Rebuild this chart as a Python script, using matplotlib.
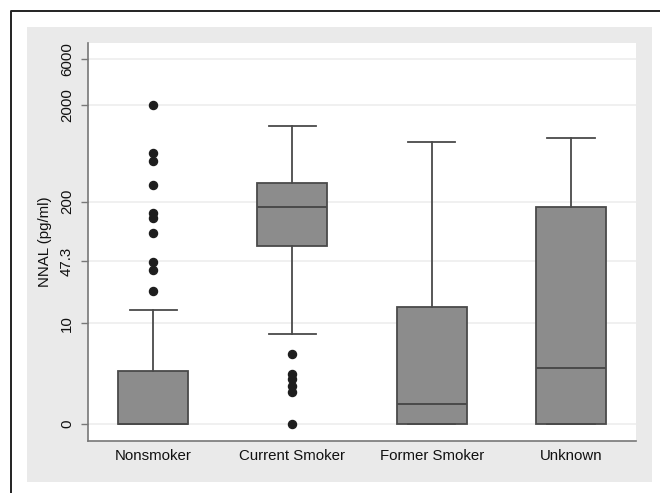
import numpy as np
import matplotlib
matplotlib.use("Agg")
import matplotlib.pyplot as plt
from matplotlib.patches import Rectangle
from matplotlib.lines import Line2D

plt.rcParams['font.family'] = ['Liberation Sans', 'DejaVu Sans']

categories = ["Nonsmoker", "Current Smoker", "Former Smoker", "Unknown"]
q1 = [0, 69, 0, 0]
medians = [0, 174, 0.6, 2.8]
q3 = [2.5, 314, 15.4, 174]
whislo = [0, 7.5, 0, 0]
whishi = [14.2, 1216, 823, 906]
outliers = [
    [2000, 633, 532, 298, 151, 134, 93, 46.9, 38.3, 23],
    [4.27, 2.33, 1.89, 1.47, 1.14, 0],
    [],
    [],
]
tick_vals = [0, 10, 47.3, 200, 2000, 6000]
tick_labels = ["0", "10", "47.3", "200", "2000", "6000"]

W, H = 660, 493
fig = plt.figure(figsize=(W / 100, H / 100), dpi=100)
fig.patch.set_facecolor("white")

# outer frame (continues off-canvas right and bottom)
fig.add_artist(Line2D([11 / W, 11 / W, 1.0], [0.0, 1 - 11 / H, 1 - 11 / H],
                      transform=fig.transFigure, color="#222222", lw=1.4))
# gray graph region
fig.add_artist(Rectangle((26.7 / W, 1 - 481.7 / H), (651.7 - 26.7) / W, (481.7 - 26.7) / H,
                         transform=fig.transFigure, facecolor="#eaeaea", edgecolor="none", zorder=0))

ax = fig.add_axes([88 / W, 1 - 440.7 / H, (636 - 88) / W, (440.7 - 43) / H])
ax.set_facecolor("white")


def fwd(x):
    x = np.asarray(x, dtype=float)
    return np.log10(np.clip(x + 1, 1e-9, None))


def inv(y):
    return 10 ** np.asarray(y, dtype=float) - 1


ax.set_yscale("function", functions=(fwd, inv))

stats = []
for i in range(len(categories)):
    stats.append(dict(med=medians[i], q1=q1[i], q3=q3[i], whislo=whislo[i],
                      whishi=whishi[i], fliers=outliers[i], label=categories[i]))

positions = np.arange(1, len(categories) + 1)
edge = "#4a4a4a"
ax.bxp(stats, positions=positions, widths=0.503, capwidths=0.34, patch_artist=True,
       showfliers=True,
       boxprops=dict(facecolor="#8c8c8c", edgecolor=edge, linewidth=1.3),
       medianprops=dict(color=edge, linewidth=1.4),
       whiskerprops=dict(color=edge, linewidth=1.3),
       capprops=dict(color=edge, linewidth=1.3),
       flierprops=dict(marker="o", markerfacecolor="#1e1e1e", markeredgecolor="#1e1e1e",
                       markersize=5.8, linestyle="none"),
       zorder=3)

ax.set_xlim(0.531, 4.468)
ax.set_ylim(-0.328, 8790)
ax.set_yticks(tick_vals)
ax.set_yticklabels(tick_labels, rotation=90, va="center", fontsize=10.8)
ax.set_xticks(positions)
ax.set_xticklabels(categories, fontsize=10.8)
ax.tick_params(axis="x", length=0, pad=6, colors="#111111")
ax.tick_params(axis="y", length=5, width=1, color="#777777", pad=5, labelcolor="#111111")
ax.minorticks_off()
ax.yaxis.grid(True, color="#eeeeee", linewidth=1.2, zorder=0)
ax.set_axisbelow(True)

for s in ["top", "right"]:
    ax.spines[s].set_visible(False)
for s in ["left", "bottom"]:
    ax.spines[s].set_color("#777777")
    ax.spines[s].set_linewidth(1.2)

ax.set_ylabel("NNAL (pg/ml)", fontsize=10.8, color="#111111", labelpad=6)

fig.savefig("out.png", dpi=100, facecolor="white")
